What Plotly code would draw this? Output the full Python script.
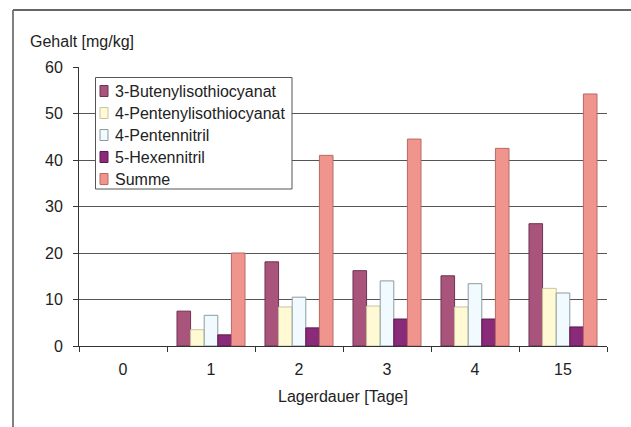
import plotly.graph_objects as go

categories = ["0", "1", "2", "3", "4", "15"]
butenyl_itc = [0, 7.5, 18.1, 16.2, 15.1, 26.3]
pentenyl_itc = [0, 3.5, 8.4, 8.6, 8.4, 12.4]
pentennitril = [0, 6.6, 10.5, 14.0, 13.4, 11.4]
hexennitril = [0, 2.4, 3.9, 5.8, 5.8, 4.1]
summe = [0, 20.0, 41.0, 44.5, 42.5, 54.2]
series_names = ["3-Butenylisothiocyanat", "4-Pentenylisothiocyanat",
                "4-Pentennitril", "5-Hexennitril", "Summe"]
y_title = "Gehalt [mg/kg]"
x_title = "Lagerdauer [Tage]"

series_values = [butenyl_itc, pentenyl_itc, pentennitril, hexennitril, summe]
fills = ["#A9557B", "#FFFAD4", "#F0FAFF", "#8A2B7A", "#F0958E"]
edges = ["#6E3352", "#C8C4A0", "#8E9A9E", "#5A1A50", "#B86A66"]

W, H = 631, 427
L, R, T, B = 79, 607, 67, 346


def px(x):
    return (x - L) / (R - L)


def py(y):
    return (B - y) / (B - T)


FAM = "Liberation Sans, Arial, sans-serif"
font = dict(family=FAM, size=16, color="#222")

fig = go.Figure()
for name, vals, col, lc in zip(series_names, series_values, fills, edges):
    fig.add_trace(go.Bar(
        x=categories, y=vals, name=name,
        marker=dict(color=col, line=dict(color=lc, width=[0 if v == 0 else 1 for v in vals])),
    ))

shapes = [
    dict(type="line", xref="paper", yref="paper",
         x0=px(13), x1=px(13), y0=py(10), y1=py(440),
         line=dict(color="#555", width=1.5)),
    dict(type="line", xref="paper", yref="paper",
         x0=px(13), x1=px(640), y0=py(10), y1=py(10),
         line=dict(color="#666", width=2)),
    # legend box
    dict(type="rect", xref="paper", yref="paper",
         x0=px(95.5), x1=px(292), y0=py(77.5), y1=py(189),
         fillcolor="white", line=dict(color="#555", width=1), layer="above"),
]
annotations = [
    dict(text=y_title, xref="paper", yref="paper",
         x=px(28), y=py(42), xanchor="left", yanchor="middle",
         showarrow=False, font=font),
    dict(text=x_title, xref="paper", yref="paper",
         x=0.5, y=py(396), xanchor="center", yanchor="middle",
         showarrow=False, font=font),
]
for i, (name, col, lc) in enumerate(zip(series_names, fills, edges)):
    yc = 91 + i * 22
    shapes.append(dict(type="rect", xref="paper", yref="paper",
                       x0=px(100), x1=px(108), y0=py(yc - 5.5), y1=py(yc + 5.5),
                       fillcolor=col, line=dict(color=lc, width=1), layer="above"))
    annotations.append(dict(text=name, xref="paper", yref="paper",
                            x=px(113), y=py(yc), xanchor="left", yanchor="middle",
                            showarrow=False, font=font))

fig.update_layout(
    width=W, height=H,
    margin=dict(l=L, r=W - R, t=T, b=H - B),
    paper_bgcolor="white", plot_bgcolor="white",
    font=font,
    barmode="group", bargap=0.227, bargroupgap=0,
    showlegend=False,
    xaxis=dict(
        type="category", showline=True, linecolor="#333", linewidth=1,
        ticks="outside", ticklen=5, tickcolor="#333", tickson="boundaries",
        showgrid=False, tickfont=font, ticklabelstandoff=9,
    ),
    yaxis=dict(
        range=[0, 60], dtick=10, showline=True, linecolor="#333", linewidth=1,
        ticks="outside", ticklen=5, tickcolor="#333",
        showgrid=True, gridcolor="#555", gridwidth=1,
        zeroline=False, tickfont=font, ticklabelstandoff=7,
    ),
    shapes=shapes,
    annotations=annotations,
)

fig.write_html("out.html")
